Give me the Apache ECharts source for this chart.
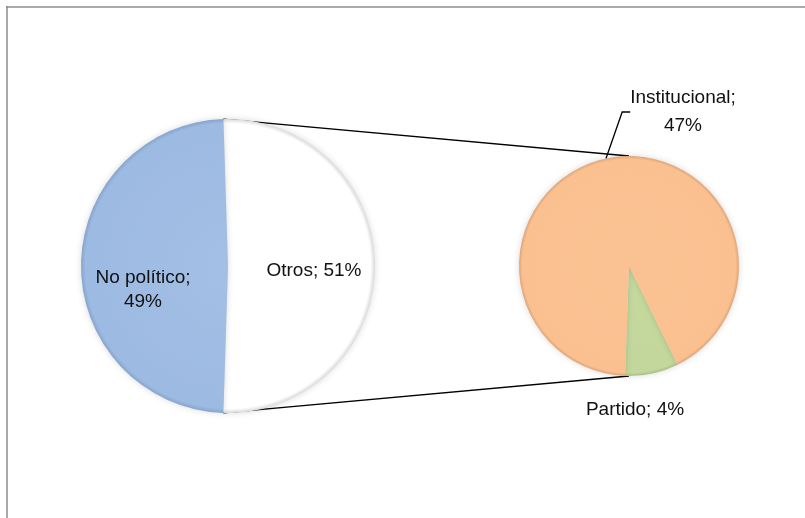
<!DOCTYPE html>
<html>
<head>
<meta charset="utf-8">
<script src="https://cdn.jsdelivr.net/npm/echarts@6/dist/echarts.min.js"></script>
<style>
html,body{margin:0;padding:0;background:#fff;}
#c{width:805px;height:518px;}
</style>
</head>
<body>
<div id="c"></div>
<script>
// ---- data ----
const mainNames = ['Otros', 'No político'];
const mainValues = [51, 49];
const subNames = ['Partido', 'Institucional'];
const subValues = [4, 47];

// ---- layout ----
const W = 805, H = 518;
const C1 = [228, 266], R1 = 147;
const C2 = [629, 266], R2 = 110;
const subStart = 296.2;

const mainTotal = mainValues.reduce((a, b) => a + b, 0);
const otrosSweep = mainValues[0] / mainTotal * 360;
const mainStart = otrosSweep / 2; // "Otros" centered at 3 o'clock

const FONT = 'Liberation Sans, Arial, sans-serif';
const TXT = '#111111';

function radial(c, r, inner, mid, edge) {
  return {
    type: 'radial', x: c[0], y: c[1], r: r, global: true,
    colorStops: [
      { offset: 0, color: inner },
      { offset: 0.9, color: mid },
      { offset: 0.97, color: mid },
      { offset: 1, color: edge }
    ]
  };
}
const mainColors = [
  radial(C1, R1, '#ffffff', '#ffffff', '#d9d9d9'),
  radial(C1, R1, '#a3bfe5', '#9dbae2', '#86a4cc')
];
const subColors = [
  radial(C2, R2, '#c6da9f', '#c3d79c', '#a9bf83'),
  radial(C2, R2, '#fac293', '#fac090', '#e0a476')
];

const chart = echarts.init(document.getElementById('c'), null, { renderer: 'canvas' });

// connector lines computed from geometry
const toRad = d => d * Math.PI / 180;
const a1 = toRad(mainStart), a2 = toRad(-mainStart);
const p1 = [C1[0] + R1 * Math.cos(a1), C1[1] - R1 * Math.sin(a1)];
const p2 = [C1[0] + R1 * Math.cos(a2), C1[1] - R1 * Math.sin(a2)];
const q1 = [C2[0], C2[1] - R2];
const q2 = [C2[0], C2[1] + R2];

const option = {
  animation: false,
  backgroundColor: '#ffffff',
  graphic: [
    { type: 'line', shape: { x1: 6, y1: 7, x2: W, y2: 7 }, style: { stroke: '#8c8c8c', lineWidth: 1.5 }, z: 10 },
    { type: 'line', shape: { x1: 7, y1: 6, x2: 7, y2: H }, style: { stroke: '#8c8c8c', lineWidth: 1.5 }, z: 10 },
    { type: 'line', shape: { x1: p1[0], y1: p1[1], x2: q1[0], y2: q1[1] }, style: { stroke: '#000', lineWidth: 1.3 }, z: 0 },
    { type: 'line', shape: { x1: p2[0], y1: p2[1], x2: q2[0], y2: q2[1] }, style: { stroke: '#000', lineWidth: 1.3 }, z: 0 }
  ],
  series: [
    {
      type: 'pie',
      center: C1,
      radius: [0, R1],
      startAngle: mainStart,
      clockwise: true,
      z: 2,
      data: mainNames.map((n, i) => ({ name: n, value: mainValues[i], itemStyle: { color: mainColors[i] } })),
      itemStyle: { borderWidth: 0, shadowBlur: 6, shadowColor: 'rgba(0,0,0,0.15)' },
      label: {
        show: true,
        position: 'inside',
        color: TXT,
        fontFamily: FONT,
        fontSize: 19,
        lineHeight: 24,
        align: 'center',
        formatter: p => p.dataIndex === 0 ? p.name + '; ' + p.value + '%' : p.name + ';\n' + p.value + '%'
      },
      labelLayout: p => p.dataIndex === 0 ? { x: 314, y: 271 } : { x: 143, y: 290 },
      labelLine: { show: false },
      emphasis: { disabled: true }
    },
    {
      type: 'pie',
      center: C2,
      radius: [0, R2],
      startAngle: subStart,
      clockwise: true,
      z: 2,
      data: subNames.map((n, i) => ({ name: n, value: subValues[i], itemStyle: { color: subColors[i] } })),
      itemStyle: { borderWidth: 0, shadowBlur: 6, shadowColor: 'rgba(0,0,0,0.15)' },
      label: {
        show: true,
        position: 'outside',
        color: TXT,
        fontFamily: FONT,
        fontSize: 19,
        lineHeight: 28,
        align: 'center',
        formatter: p => p.dataIndex === 1 ? p.name + ';\n' + p.value + '%' : p.name + '; ' + p.value + '%'
      },
      labelLayout: p => p.dataIndex === 1
        ? { x: 683, y: 112, align: 'center', verticalAlign: 'middle' }
        : { x: 635, y: 410, align: 'center', verticalAlign: 'middle' },
      labelLine: { show: true, length: 10, length2: 8, lineStyle: { color: '#000', width: 1.3 } },
      emphasis: { disabled: true }
    }
  ]
};
option.series[1].data[0].labelLine = { show: false };
chart.setOption(option);
</script>
</body>
</html>
